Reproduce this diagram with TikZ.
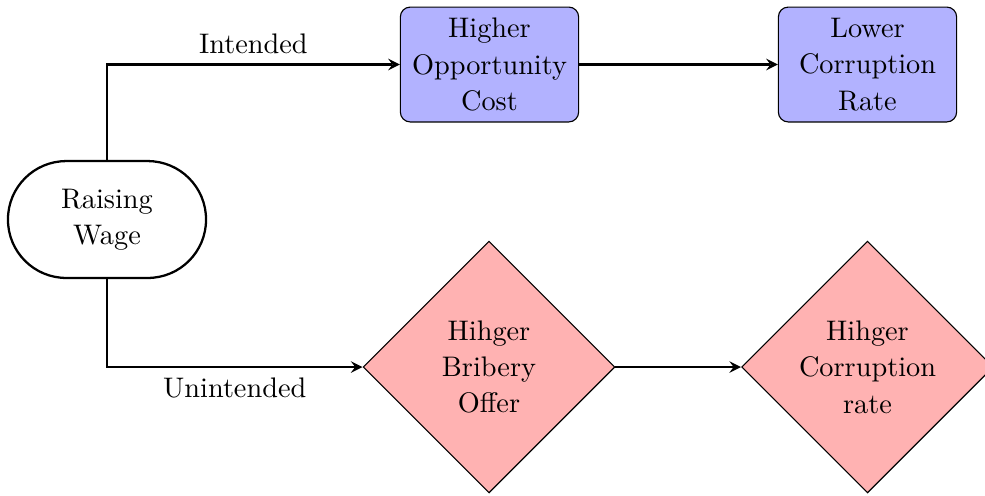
\documentclass[tikz,border=0pt]{standalone}
\usetikzlibrary{shapes.geometric,arrows}
\begin{document}
\begin{tikzpicture}[x=0.3534pt,y=-0.3534pt,
 every node/.style={font=\fontsize{10}{12.85}\selectfont},
 startbox/.style={rectangle, rounded corners=20.6pt, minimum width=70pt, minimum height=41.3pt, draw, thick, align=center},
 procbox/.style={rectangle, rounded corners=3.5pt, minimum width=63pt, minimum height=40.6pt, draw, fill=blue!30, align=center, inner sep=0pt},
 decbox/.style={diamond, aspect=1, minimum size=89pt, inner sep=0pt, draw, fill=red!30, align=center},
 arr/.style={thick,-stealth}]
\useasboundingbox (0,0) rectangle (985,495);
\node[startbox] (start) at (107,219.5) {Raising\\Wage};
\node[procbox] (p1) at (489.5,64.5) {Higher\\Opportunity\\Cost};
\node[procbox] (p2) at (867.5,64.5) {Lower\\Corruption\\Rate};
\node[decbox] (d1) at (489,367) {Hihger\\Bribery\\Offer};
\node[decbox] (d2) at (867.5,367) {Hihger\\Corruption\\rate};
\draw[arr] (start.north) |- node[pos=0.75,above] {Intended} (p1.west);
\draw[arr] (start.south) |- node[pos=0.75,below] {Unintended} (d1.west);
\draw[arr] (p1.east) -- (p2.west);
\draw[arr] (d1.east) -- (d2.west);
\end{tikzpicture}
\end{document}
